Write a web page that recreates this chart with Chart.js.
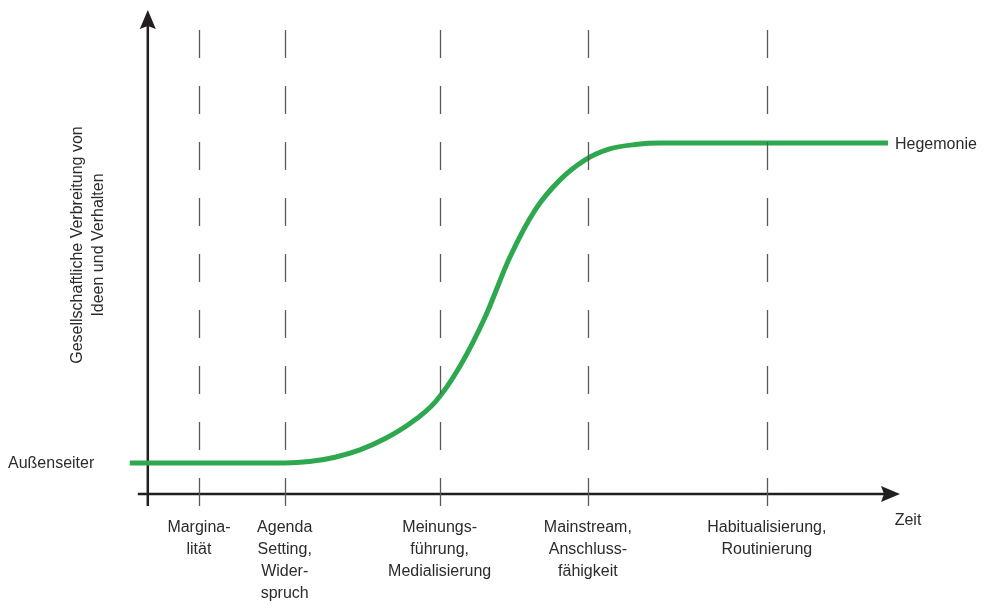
<!DOCTYPE html>
<html>
<head>
<meta charset="utf-8">
<script src="https://cdn.jsdelivr.net/npm/chart.js@4"></script>
<style>
  body { margin: 0; background: #fff; }
  #wrap { width: 990px; height: 601px; }
</style>
</head>
<body>
<div id="wrap"><canvas id="chart" width="990" height="601"></canvas></div>
<script>
// time (x) and spread (y) of the curve, in arbitrary units
const timeValues = [-2.4, 18.2, 21.5, 24.9, 28.2, 31.5, 34.8, 38.2, 41.5, 44.8, 48.1, 51.5, 54.8, 58.1, 61.4, 64.8, 68.1, 98.4];
const spreadValues = [6.4, 6.4, 6.7, 7.6, 9.1, 11.4, 14.5, 19.0, 26.4, 36.4, 48.8, 58.7, 64.9, 69.0, 71.3, 72.2, 72.5, 72.5];

// phases marked by the dashed lines
const phaseTimes = [6.8, 18.2, 38.8, 58.5, 82.3];
const phaseLabels = [
    ['Margina-', 'lität'],
    ['Agenda', 'Setting,', 'Wider-', 'spruch'],
    ['Meinungs-', 'führung,', 'Medialisierung'],
    ['Mainstream,', 'Anschluss-', 'fähigkeit'],
    ['Habitualisierung,', 'Routinierung']
];

const yTitle = ['Gesellschaftliche Verbreitung von', 'Ideen und Verhalten'];
const xTitle = 'Zeit';
const lowLabel = 'Außenseiter';
const highLabel = 'Hegemonie';

const FONT = '16px "Liberation Sans", Arial, sans-serif';
const TEXT = '#2b2b2b';
const AXIS = '#231f20';

const diagram = {
    id: 'diagram',
    beforeDatasetsDraw(chart) {
        const { ctx, chartArea, scales } = chart;
        const x0 = scales.x.getPixelForValue(0);
        const y0 = scales.y.getPixelForValue(0);
        ctx.save();
        ctx.strokeStyle = AXIS;
        ctx.fillStyle = AXIS;
        ctx.lineWidth = 2.5;

        // y axis with arrow
        ctx.beginPath();
        ctx.moveTo(x0, y0 + 12);
        ctx.lineTo(x0, chartArea.top + 16);
        ctx.stroke();
        ctx.beginPath();
        ctx.moveTo(x0, chartArea.top);
        ctx.lineTo(x0 + 8, chartArea.top + 19);
        ctx.lineTo(x0, chartArea.top + 16);
        ctx.lineTo(x0 - 8, chartArea.top + 19);
        ctx.closePath();
        ctx.fill();

        // x axis with arrow
        ctx.beginPath();
        ctx.moveTo(x0 - 10, y0);
        ctx.lineTo(chartArea.right - 16, y0);
        ctx.stroke();
        ctx.beginPath();
        ctx.moveTo(chartArea.right, y0);
        ctx.lineTo(chartArea.right - 19, y0 - 8);
        ctx.lineTo(chartArea.right - 16, y0);
        ctx.lineTo(chartArea.right - 19, y0 + 8);
        ctx.closePath();
        ctx.fill();
        ctx.restore();
    },
    afterDatasetsDraw(chart) {
        const { ctx, chartArea, scales } = chart;
        const y0 = scales.y.getPixelForValue(0);
        ctx.save();

        // dashed phase lines
        ctx.strokeStyle = '#5a5a5a';
        ctx.lineWidth = 1.3;
        ctx.setLineDash([28, 28]);
        phaseTimes.forEach(t => {
            const x = Math.round(scales.x.getPixelForValue(t)) + 0.5;
            ctx.beginPath();
            ctx.moveTo(x, chartArea.top + 20);
            ctx.lineTo(x, y0 + 12);
            ctx.stroke();
        });
        ctx.setLineDash([]);

        // texts
        ctx.font = FONT;
        ctx.fillStyle = TEXT;
        ctx.textBaseline = 'middle';
        ctx.textAlign = 'center';
        phaseTimes.forEach((t, i) => {
            const x = scales.x.getPixelForValue(t);
            phaseLabels[i].forEach((line, j) => {
                ctx.fillText(line, x, y0 + 34 + j * 22);
            });
        });

        ctx.fillText(xTitle, chartArea.right + 8, y0 + 27);

        ctx.textAlign = 'left';
        ctx.fillText(highLabel, chartArea.right - 5, scales.y.getPixelForValue(spreadValues[spreadValues.length - 1]) + 1);
        ctx.fillText(lowLabel, 8, scales.y.getPixelForValue(spreadValues[0]) + 1);

        ctx.save();
        ctx.translate(88, 245);
        ctx.rotate(-Math.PI / 2);
        ctx.textAlign = 'center';
        ctx.fillText(yTitle[0], 0, -10);
        ctx.fillText(yTitle[1], 0, 11);
        ctx.restore();

        ctx.restore();
    }
};

new Chart(document.getElementById('chart').getContext('2d'), {
    type: 'line',
    data: {
        datasets: [{
            data: timeValues.map((t, i) => ({ x: t, y: spreadValues[i] })),
            borderColor: '#2ea84e',
            borderWidth: 5,
            pointRadius: 0,
            cubicInterpolationMode: 'monotone',
            fill: false
        }]
    },
    options: {
        responsive: false,
        devicePixelRatio: 1,
        animation: false,
        layout: { padding: { left: 129, right: 90, top: 10, bottom: 107 } },
        plugins: { legend: { display: false }, tooltip: { enabled: false } },
        scales: {
            x: { type: 'linear', min: -2.5, max: 100, display: false },
            y: { type: 'linear', min: 0, max: 100, display: false }
        }
    },
    plugins: [diagram]
});
</script>
</body>
</html>
